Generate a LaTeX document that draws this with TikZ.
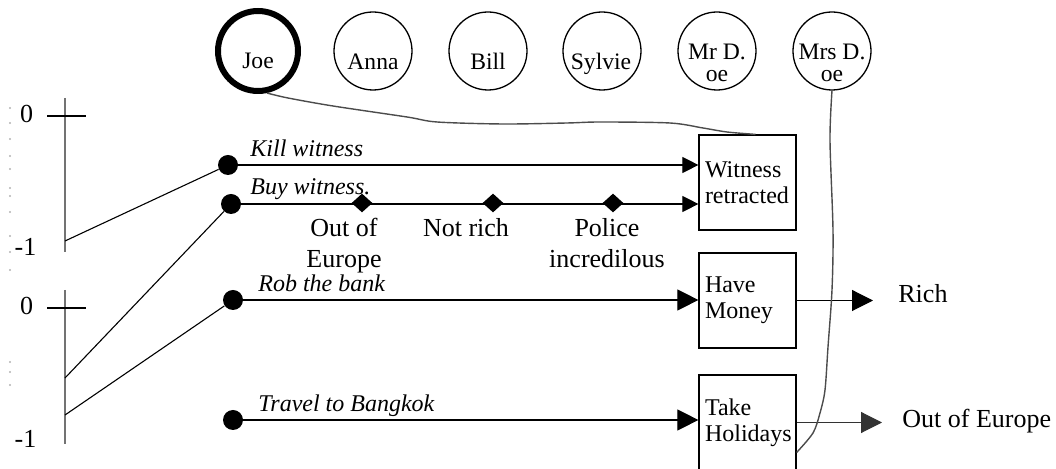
\documentclass[tikz,border=0pt]{standalone}
\usepackage{fontspec}
\setmainfont{Liberation Serif}
\usetikzlibrary{arrows.meta,shapes.geometric,calc}

\begin{document}
\begin{tikzpicture}[x=0.5pt,y=-0.5pt,
  person/.style={circle,draw,line width=0.65pt,minimum size=39pt,inner sep=0pt},
  who/.style={font=\fontsize{11.8pt}{10.8pt}\selectfont,align=center,inner sep=0pt},
  dot/.style={circle,fill,inner sep=0pt,minimum size=10pt},
  gem/.style={diamond,fill,inner sep=0pt,minimum width=10.5pt,minimum height=9.5pt},
  state/.style={draw,line width=0.6pt,minimum height=47.5pt,text width=42.5pt,
    inner xsep=3pt,inner ysep=0pt,align=left,
    font=\fontsize{12pt}{13pt}\selectfont,
    execute at begin node={\hyphenpenalty=10000\relax}},
  act/.style={font=\fontsize{12pt}{14pt}\selectfont\itshape,inner sep=0pt,anchor=base west},
  note/.style={font=\fontsize{13pt}{15.5pt}\selectfont,align=center,inner sep=0pt,anchor=north},
  big/.style={font=\fontsize{13pt}{15.5pt}\selectfont,inner sep=0pt},
  wire/.style={line width=0.55pt},
  smallhead/.style={-{Triangle[length=8pt,width=8pt]}},
  bighead/.style={-{Triangle[length=10.5pt,width=10.5pt]}},
  axis/.style={line width=0.8pt,black!55},
  trail/.style={line width=0.7pt,black!70}]

\useasboundingbox (0,0) rectangle (1056,469);
\clip (0,0) rectangle (1056,469);

% people
\node[person,line width=3pt,minimum size=40pt] (joe) at (258,51) {};
\node[person] (anna) at (373,51) {};
\node[person] (bill) at (488,51) {};
\node[person] (sylvie) at (602,51) {};
\node[person] (mrd) at (717,51) {};
\node[person] (mrsd) at (832,51) {};
\node[who,anchor=base] (joet) at (258,69) {Joe};
\node[who,anchor=base] (annat) at (373,70) {Anna};
\node[who,anchor=base] (billt) at (488,70) {Bill};
\node[who,anchor=base] (sylviet) at (601,70) {Sylvie};
\node[who,anchor=north] (mrdt) at (717,44) {Mr D.\\oe};
\node[who,anchor=north] (mrsdt) at (832,44) {Mrs D.\\oe};

% states
\node[state] (wr) at (747.5,182.5) {Witness\\retracted};
\node[state] (hm) at (747.5,300.5) {Have\\Money};
\node[state] (th) at (747.5,422.5) {Take\\Holidays};

% action starts
\node[dot] (kill) at (228,165) {};
\node[dot] (buy) at (231,204) {};
\node[dot] (rob) at (233,300) {};
\node[dot] (trav) at (233,420) {};

% action labels
\node[act] (killt) at (250,157) {Kill witness};
\node[act] (buyt) at (250,195) {Buy witness.};
\node[act] (robt) at (258,292) {Rob the bank};
\node[act] (travt) at (258,412) {Travel to Bangkok};

% actions
\draw[wire,smallhead] (kill) -- (kill -| wr.west);
\draw[wire,smallhead] (buy) -- (buy -| wr.west);
\draw[wire,bighead] (rob) -- (rob -| hm.west);
\draw[wire,bighead] (trav) -- (trav -| th.west);

% side effects along the bribe
\node[gem] (g1) at (362,203) {};
\node[gem] (g2) at (493,203) {};
\node[gem] (g3) at (613,203) {};
\node[note] (g1t) at (344,218) {Out of\\Europe};
\node[note] (g2t) at (466,218) {Not rich};
\node[note] (g3t) at (607,218) {Police\\incredilous};

% outcomes
\node[big,anchor=base west] (rich) at (898,303) {Rich};
\node[big,anchor=base west] (ooe) at (902,428) {Out of Europe};
\draw[wire,bighead,shorten >=12.5pt] (hm.east) -- (hm.east -| rich.west);
\draw[wire,bighead,black!80,shorten >=10pt] (th.east) -- (th.east -| ooe.west);

% probability scales
\coordinate (ut) at (65,98);
\coordinate (ub) at (65,252);
\coordinate (lt) at (65,290);
\coordinate (lb) at (65,444);
\draw[axis] (ut) -- (ub);
\draw[axis] (lt) -- (lb);
\draw[wire] (47,116) -- (86,116);
\draw[wire] (47,308) -- (86,308);
\node[big,anchor=base] (u0) at (26.5,123) {0};
\node[big,anchor=base] (u1) at (25.5,256) {-1};
\node[big,anchor=base] (l0) at (26.5,315) {0};
\node[big,anchor=base] (l1) at (25.5,448) {-1};
\coordinate (ua) at (65,241);
\coordinate (la) at (65,378);
\coordinate (lc) at (65,415);
\draw[wire] (ua) -- (kill);
\draw[wire] (la) -- (buy);
\draw[wire] (lc) -- (rob);

% faint gridline marks
\foreach \yy in {108,123,139,156,169,188,196,212,236,252,270,362,372,385}
  \fill[black!30] (10,\yy) circle (0.55pt);

% who is involved in which state
\draw[trail] plot[smooth,tension=0.5] coordinates {(joe.-78) (288,98) (333,106)
  (407,117) (437,122) (503,124) (567,123) (600,122) (670,123) (703,128)
  (727,132) ($(wr.north)+(8,0)$)};
\draw[trail] plot[smooth,tension=0.5] coordinates {(mrsd.south) (830,140)
  (833,230) (832,290) (828,347) (825,390) (820,413) (813,433) ($(th.east)+(0,30)$)};
\end{tikzpicture}
\end{document}
